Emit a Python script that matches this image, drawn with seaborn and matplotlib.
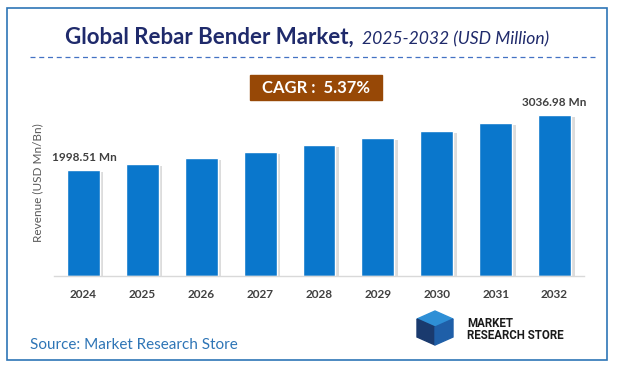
import matplotlib
matplotlib.use("Agg")
import matplotlib.pyplot as plt
import matplotlib.patches as mpatches
import matplotlib.patheffects as pe
import pandas as pd
import seaborn as sns

# data (USD Mn)
years = ["2024", "2025", "2026", "2027", "2028", "2029", "2030", "2031", "2032"]
revenue = [1998.51, 2106, 2219, 2338, 2464, 2596, 2735, 2882, 3036.98]
first_label = "1998.51 Mn"
last_label = "3036.98 Mn"
cagr_text = "CAGR :  5.37%"

sns.set_style("white")
plt.rcParams["font.family"] = ["Lato", "DejaVu Sans"]

df = pd.DataFrame({"year": years, "revenue": revenue})

W, H = 617, 372
fig = plt.figure(figsize=(W / 100, H / 100), dpi=100)

def fx(px):
    return px / W

def fy(py):
    return 1 - py / H

# outer border
fig.patches.append(mpatches.Rectangle((fx(7), fy(360)), fx(607) - fx(7), fy(8) - fy(360),
                                      transform=fig.transFigure, fill=False,
                                      edgecolor="#2E75B6", linewidth=1.2))

ax = fig.add_axes([fx(54), fy(276), fx(584) - fx(54), fy(90) - fy(276)])
sns.barplot(data=df, x="year", y="revenue", color="#0A77CC", width=0.56, ax=ax,
            saturation=1)
for bar in ax.patches:
    bar.set_path_effects([pe.SimplePatchShadow(offset=(2.5, -1.5), shadow_rgbFace="#8C8C8C", alpha=0.3),
                          pe.Normal()])

ax.set_xlim(-0.5, 8.5)
ax.set_ylim(0, 3508)
ax.set_yticks([])
ax.set_xlabel("")
ax.set_ylabel("Revenue (USD Mn/Bn)", color="#595959", fontsize=8.5, labelpad=8)
for s in ["top", "right", "left"]:
    ax.spines[s].set_visible(False)
ax.spines["bottom"].set_color("#D9D9D9")
ax.spines["bottom"].set_linewidth(1)
ax.tick_params(axis="x", length=0, pad=9, labelsize=8.5, labelcolor="#404040")
for t in ax.get_xticklabels():
    t.set_fontweight("bold")

ax.text(0 - 0.53, revenue[0] + 130, first_label, ha="left", va="bottom",
        fontsize=8.5, fontweight="bold", color="#404040")
ax.text(8, revenue[-1] + 130, last_label, ha="center", va="bottom",
        fontsize=8.5, fontweight="bold", color="#404040")

# title
fig.text(fx(354), fy(44), "Global Rebar Bender Market,", ha="right", va="baseline",
         fontsize=16, fontweight="bold", color="#1F2A6B")
fig.text(fx(362), fy(44), "2025-2032 (USD Million)", ha="left", va="baseline",
         fontsize=12.6, fontstyle="italic", color="#1F2A6B")
fig.lines.append(plt.Line2D([fx(30), fx(597)], [fy(57), fy(57)], transform=fig.transFigure,
                            color="#4472C4", linewidth=0.9, linestyle=(0, (4, 3))))

# CAGR box
fig.patches.append(mpatches.Rectangle((fx(250), fy(100)), fx(382) - fx(250), fy(75) - fy(100),
                                      transform=fig.transFigure, color="#974806"))
fig.text(fx(316), fy(88), cagr_text, ha="center", va="center", fontsize=12,
         fontweight="bold", color="white")

# source
fig.text(fx(30), fy(345), "Source: Market Research Store", ha="left", va="center",
         fontsize=11, color="#2E75B6")

# logo
lx, ly = 415, 311
fig.patches.append(mpatches.Polygon([(fx(lx + 2), fy(ly + 8)), (fx(lx + 20), fy(ly)),
                                     (fx(lx + 38), fy(ly + 8)), (fx(lx + 20), fy(ly + 16))],
                                    closed=True, transform=fig.transFigure, color="#2E8FD6"))
fig.patches.append(mpatches.Polygon([(fx(lx + 2), fy(ly + 8)), (fx(lx + 20), fy(ly + 16)),
                                     (fx(lx + 20), fy(ly + 34)), (fx(lx + 2), fy(ly + 26))],
                                    closed=True, transform=fig.transFigure, color="#1A3A6E"))
fig.patches.append(mpatches.Polygon([(fx(lx + 20), fy(ly + 16)), (fx(lx + 38), fy(ly + 8)),
                                     (fx(lx + 38), fy(ly + 26)), (fx(lx + 20), fy(ly + 34))],
                                    closed=True, transform=fig.transFigure, color="#1F5FA8"))
fig.text(fx(467), fy(327), "MARKET", ha="left", va="baseline", fontsize=8.3,
         fontweight="bold", color="#1A1A1A", family=["Roboto", "DejaVu Sans"])
fig.text(fx(467), fy(339), "RESEARCH STORE", ha="left", va="baseline", fontsize=8.3,
         fontweight="bold", color="#1A1A1A", family=["Roboto", "DejaVu Sans"])

fig.savefig("out.png", dpi=100)
